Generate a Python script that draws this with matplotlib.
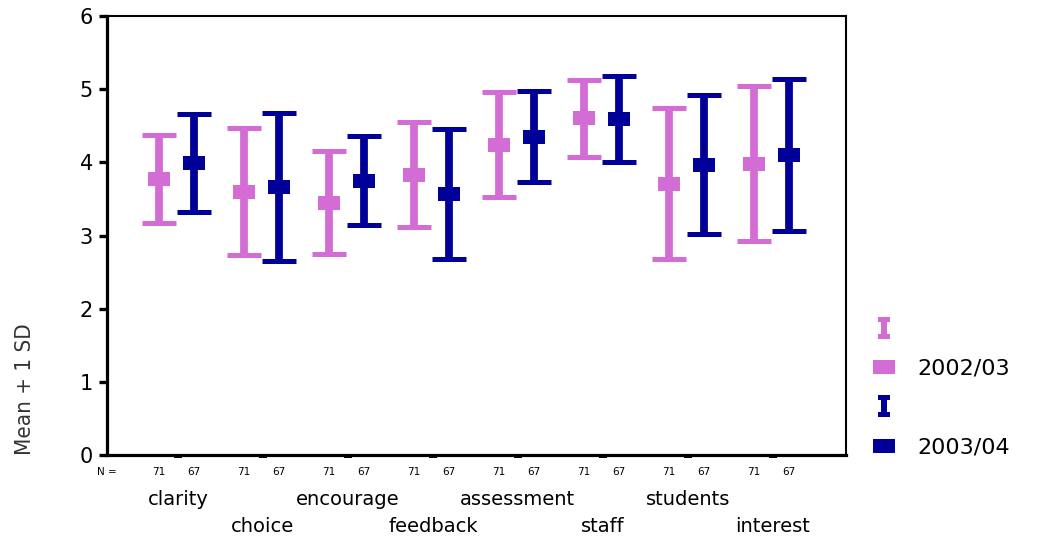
import matplotlib
matplotlib.use('Agg')
import matplotlib.pyplot as plt
import matplotlib.transforms as mtransforms
from matplotlib.path import Path
from matplotlib.lines import Line2D
from matplotlib import font_manager
import numpy as np

# data (mean +/- 1 SD)
categories = ['clarity', 'choice', 'encourage', 'feedback',
              'assessment', 'staff', 'students', 'interest']
mean_0203 = [3.77, 3.60, 3.45, 3.83, 4.24, 4.60, 3.71, 3.98]
sd_0203 = [0.60, 0.87, 0.70, 0.72, 0.72, 0.53, 1.03, 1.06]
mean_0304 = [3.99, 3.66, 3.75, 3.57, 4.35, 4.59, 3.97, 4.10]
sd_0304 = [0.67, 1.01, 0.61, 0.89, 0.62, 0.59, 0.95, 1.04]
n_0203 = [71] * 8
n_0304 = [67] * 8
series_labels = ['2002/03', '2003/04']
yticks = [0, 1, 2, 3, 4, 5, 6]

pink = '#D46CD6'
navy = '#000099'

plt.rcParams['font.family'] = ['DejaVu Sans']

fig = plt.figure(figsize=(10.42, 5.37), dpi=100)
ax = fig.add_axes([107 / 1042, 1 - 455 / 537, (846 - 107) / 1042, (455 - 16) / 537])

# wide rectangle marker for the means
rect = Path([(-0.5, -0.3), (0.5, -0.3), (0.5, 0.3), (-0.5, 0.3), (-0.5, -0.3)],
            [Path.MOVETO, Path.LINETO, Path.LINETO, Path.LINETO, Path.CLOSEPOLY])
# I-beam marker for the legend
ib = Path([(-0.27, 0.5), (0.27, 0.5), (0.27, 0.28), (0.14, 0.28), (0.14, -0.28),
           (0.27, -0.28), (0.27, -0.5), (-0.27, -0.5), (-0.27, -0.28), (-0.14, -0.28),
           (-0.14, 0.28), (-0.27, 0.28), (-0.27, 0.5)])

x = np.arange(1, len(categories) + 1)
off_a, off_b = -0.225, 0.19

for xs, m, s, c in [(x + off_a, mean_0203, sd_0203, pink),
                    (x + off_b, mean_0304, sd_0304, navy)]:
    ax.errorbar(xs, m, yerr=s, fmt='none', ecolor=c, elinewidth=5.6,
                capsize=12.5, capthick=3.6)
    ax.plot(xs, m, linestyle='none', marker=rect, markersize=16,
            color=c, markeredgewidth=0)

ax.set_xlim(0.165, 8.86)
ax.set_ylim(0, 6)
ax.set_yticks(yticks)
ax.set_yticklabels([str(t) for t in yticks], fontsize=15)
ax.set_xticks(x)
ax.set_xticklabels([])
ax.tick_params(axis='y', direction='out', length=6, width=2.4, pad=4)
ax.tick_params(axis='x', direction='out', length=2, width=5.8)
for side in ['left', 'bottom']:
    ax.spines[side].set_linewidth(2.3)
for side in ['top', 'right']:
    ax.spines[side].set_linewidth(1.5)

trans = mtransforms.blended_transform_factory(ax.transData, ax.transAxes)
ax.text(0.0, -0.039, 'N =', transform=ax.transAxes, ha='center', va='center', fontsize=7.5)
for i in range(len(categories)):
    ax.text(x[i] + off_a, -0.039, str(n_0203[i]), transform=trans,
            ha='center', va='center', fontsize=7.5)
    ax.text(x[i] + off_b, -0.039, str(n_0304[i]), transform=trans,
            ha='center', va='center', fontsize=7.5)
    row_y = -0.1025 if i % 2 == 0 else -0.164
    ax.text(x[i], row_y, categories[i], transform=trans,
            ha='center', va='center', fontsize=14)

# y label: use a condensed face if one is installed
fonts = font_manager.fontManager.ttflist
if any(f.name == 'Liberation Sans Narrow' for f in fonts):
    ylab_kw = dict(family='Liberation Sans Narrow', fontsize=19)
elif any(f.name == 'DejaVu Sans' and f.stretch == 'condensed' for f in fonts):
    ylab_kw = dict(family='DejaVu Sans', fontstretch='condensed', fontsize=16)
else:
    ylab_kw = dict(fontsize=14)
fig.text(25 / 1042, 1 - 389 / 537, 'Mean + 1 SD', rotation=90, ha='center',
         va='center', color='#333333', **ylab_kw)

handles = [Line2D([], [], linestyle='none', marker=ib, markersize=16, color=pink, markeredgewidth=0),
           Line2D([], [], linestyle='none', marker=rect, markersize=16, color=pink, markeredgewidth=0),
           Line2D([], [], linestyle='none', marker=ib, markersize=16, color=navy, markeredgewidth=0),
           Line2D([], [], linestyle='none', marker=rect, markersize=16, color=navy, markeredgewidth=0)]
labels = ['', series_labels[0], '', series_labels[1]]
ax.legend(handles, labels, loc='center left', bbox_to_anchor=(873 / 1042, 1 - 388.5 / 537),
          bbox_transform=fig.transFigure, frameon=False, fontsize=16,
          handlelength=1.0, handletextpad=1.0, labelspacing=0.87,
          borderpad=0, borderaxespad=0)

fig.savefig('out.png', dpi=100)
